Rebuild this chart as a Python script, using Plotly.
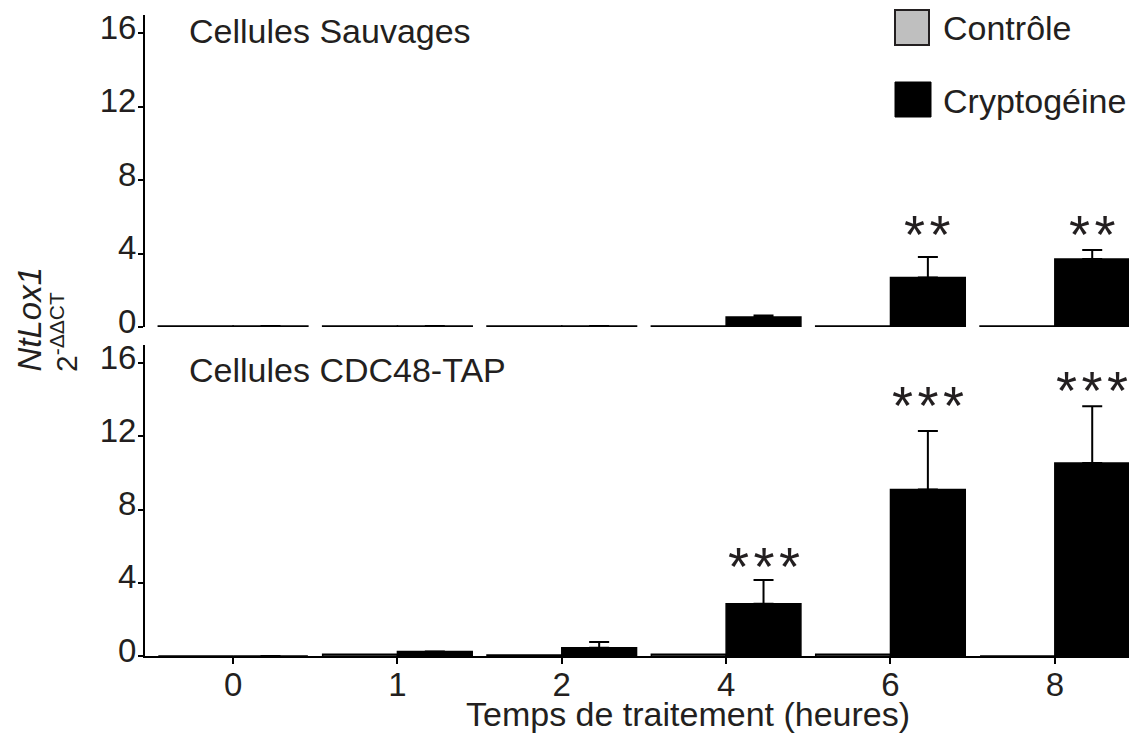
import plotly.graph_objects as go

# --- data ---
TIMES = ["0", "1", "2", "4", "6", "8"]

# Cellules Sauvages (upper panel)
wt_controle = [0.05, 0.05, 0.05, 0.05, 0.05, 0.05]
wt_crypto = [0.05, 0.05, 0.05, 0.55, 2.7, 3.7]
wt_crypto_err = [0, 0, 0, 0.08, 1.12, 0.5]
wt_stars = ["", "", "", "", "**", "**"]
wt_stars_y = [None, None, None, None, 4.85, 4.85]

# Cellules CDC48-TAP (lower panel)
cdc_controle = [0.0, 0.1, 0.05, 0.1, 0.1, 0.0]
cdc_crypto = [0.0, 0.25, 0.45, 2.85, 9.1, 10.55]
cdc_crypto_err = [0, 0, 0.32, 1.3, 3.2, 3.1]
cdc_stars = ["", "", "", "***", "***", "***"]
cdc_stars_y = [None, None, None, 4.7, 13.5, 14.3]

Y_TICKS = [0, 4, 8, 12, 16]

# --- layout geometry (page pixels; the html body adds an 8px margin) ---
OFF = 8
W, H = 1137 - OFF, 735 - OFF
L, R, T, B = 145 - OFF, 0, 15 - OFF, 79
FONT = "Liberation Sans, Arial, sans-serif"
INK = "#231f20"
GREY = "#bfbfbf"
BARGAP = 0.09


def paper_x(px):
    return (px - OFF - L) / (W - L - R)


def paper_y(py):
    return (H + OFF - B - py) / (H - T - B)


def add_panel(fig, yaxis, controle, crypto, err):
    bar_line = dict(color="black", width=1.5)
    fig.add_trace(go.Bar(
        x=TIMES, y=controle, name="Contrôle", xaxis="x", yaxis=yaxis,
        marker=dict(color=GREY, line=bar_line), showlegend=False,
    ))
    fig.add_trace(go.Bar(
        x=TIMES, y=crypto, name="Cryptogéine", xaxis="x", yaxis=yaxis,
        marker=dict(color="black", line=bar_line), showlegend=False,
        error_y=dict(type="data", array=err, arrayminus=[0] * len(err),
                     symmetric=False, color="black", thickness=2, width=10),
    ))


fig = go.Figure()
add_panel(fig, "y2", wt_controle, wt_crypto, wt_crypto_err)
add_panel(fig, "y", cdc_controle, cdc_crypto, cdc_crypto_err)

yaxis_style = dict(
    range=[0, 17], tickvals=Y_TICKS, showgrid=False, zeroline=False,
    showline=True, linecolor="black", linewidth=2,
    ticks="outside", ticklen=5, tickwidth=2, tickcolor="black",
    tickfont=dict(size=33, color=INK), ticklabelshift=-6,
    ticklabelstandoff=-5, anchor="x",
)

fig.update_layout(
    width=W, height=H,
    margin=dict(l=L, r=R, t=T, b=B),
    paper_bgcolor="white", plot_bgcolor="white",
    font=dict(family=FONT, color=INK),
    barmode="group", bargap=BARGAP, bargroupgap=0,
    xaxis=dict(
        type="category", categoryorder="array", categoryarray=TIMES,
        range=[-0.536, 5.5], domain=[0, 1], anchor="y",
        showline=True, linecolor="black", linewidth=2, showgrid=False,
        ticks="outside", ticklen=6, tickwidth=2, tickcolor="black",
        tickfont=dict(size=33, color=INK), ticklabelstandoff=-8,
    ),
    yaxis=dict(domain=[0, paper_y(345)], **yaxis_style),
    yaxis2=dict(domain=[paper_y(327), 1], **yaxis_style),
)

# significance stars above the Cryptogéine bars
crypto_offset = (1 - BARGAP) / 4
for yref, stars, ys in (("y2", wt_stars, wt_stars_y), ("y", cdc_stars, cdc_stars_y)):
    for i, (s, yv) in enumerate(zip(stars, ys)):
        if not s:
            continue
        fig.add_annotation(
            x=i + crypto_offset, y=yv, xref="x", yref=yref,
            text="\u200a".join(s), showarrow=False,
            xanchor="center", yanchor="bottom", yshift=-28,
            font=dict(size=54, color=INK),
        )

# panel titles
fig.add_annotation(x=paper_x(187), y=paper_y(31), xref="paper", yref="paper",
                   text="Cellules Sauvages", showarrow=False,
                   xanchor="left", yanchor="middle", font=dict(size=34))
fig.add_annotation(x=paper_x(187), y=paper_y(370), xref="paper", yref="paper",
                   text="Cellules CDC48-TAP", showarrow=False,
                   xanchor="left", yanchor="middle", font=dict(size=34))

# legend drawn by hand (large swatches)
fig.add_shape(type="rect", xref="paper", yref="paper",
              x0=paper_x(895), x1=paper_x(929), y0=paper_y(45), y1=paper_y(10),
              fillcolor=GREY, line=dict(color=INK, width=2))
fig.add_shape(type="rect", xref="paper", yref="paper",
              x0=paper_x(895), x1=paper_x(931), y0=paper_y(117), y1=paper_y(82),
              fillcolor="black", line=dict(color="black", width=1))
fig.add_annotation(x=paper_x(941), y=paper_y(28), xref="paper", yref="paper",
                   text="Contrôle", showarrow=False,
                   xanchor="left", yanchor="middle", font=dict(size=34))
fig.add_annotation(x=paper_x(941), y=paper_y(101), xref="paper", yref="paper",
                   text="Cryptogéine", showarrow=False,
                   xanchor="left", yanchor="middle", font=dict(size=34))

# axis titles
fig.add_annotation(x=paper_x(688), y=paper_y(714), xref="paper", yref="paper",
                   text="Temps de traitement (heures)", showarrow=False,
                   xanchor="center", yanchor="middle", font=dict(size=34))
fig.add_annotation(x=paper_x(29), y=paper_y(374), xref="paper", yref="paper",
                   text="<i>NtLox1</i>", showarrow=False, textangle=-90,
                   xanchor="center", yanchor="bottom", font=dict(size=33))
fig.add_annotation(x=paper_x(64), y=paper_y(374), xref="paper", yref="paper",
                   text="2<sup>-ΔΔCT</sup>", showarrow=False, textangle=-90,
                   xanchor="center", yanchor="bottom", font=dict(size=30))

fig.write_html("out.html")
